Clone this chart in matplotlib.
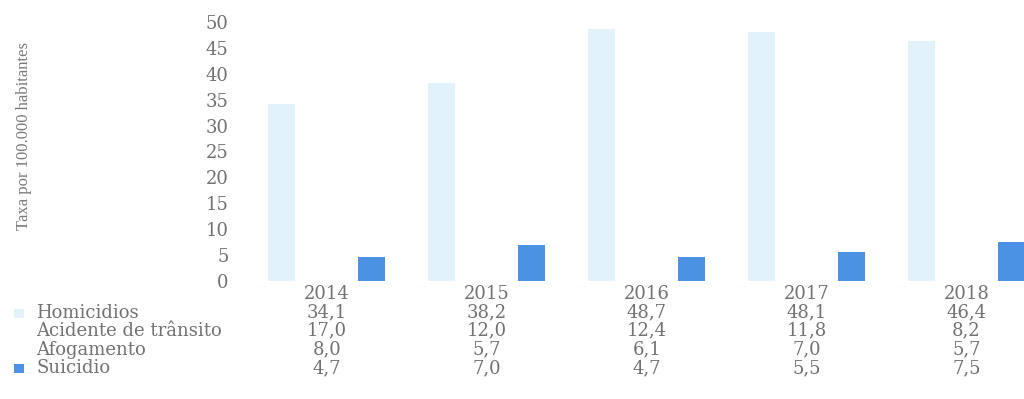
import matplotlib
matplotlib.use("Agg")
import matplotlib.pyplot as plt
import matplotlib.transforms as mtransforms
from matplotlib.patches import Rectangle
import numpy as np

years = ["2014", "2015", "2016", "2017", "2018"]
series_names = ["Homicidios", "Acidente de trânsito", "Afogamento", "Suicidio"]
homicidios = [34.1, 38.2, 48.7, 48.1, 46.4]
acidente = [17.0, 12.0, 12.4, 11.8, 8.2]
afogamento = [8.0, 5.7, 6.1, 7.0, 5.7]
suicidio = [4.7, 7.0, 4.7, 5.5, 7.5]
series = [homicidios, acidente, afogamento, suicidio]
colors = ["#e2f2fb", "#ffffff", "#ffffff", "#4c92e4"]

TXT = "#727272"
SERIF = ["DejaVu Serif"]
FS = 13

fig = plt.figure(figsize=(10.24, 3.99), dpi=100)
# o gráfico original está cortado à direita: o eixo passa da borda
ax = fig.add_axes([0.241, 0.296, 0.781, 0.649])

x = np.arange(len(years))
w = 0.1875
for k, vals in enumerate(series):
    ax.bar(x + (k - 1.5) * w, vals, width=w * 0.9, color=colors[k], linewidth=0)

ax.set_xlim(-0.5, len(years) - 0.5)
ax.set_ylim(0, 50)
ax.set_yticks(range(0, 51, 5))
ax.set_yticklabels([str(v) for v in range(0, 51, 5)], family=SERIF,
                   fontsize=FS, color=TXT)
ax.tick_params(axis="y", length=0, pad=13)
ax.set_xticks(x)
ax.set_xticklabels(years, family=SERIF, fontsize=FS, color=TXT)
ax.tick_params(axis="x", length=0, pad=3)
for s in ax.spines.values():
    s.set_visible(False)

fig.text(0.023, 0.66, "Taxa por 100.000 habitantes", rotation=90,
         ha="center", va="center", family=["Liberation Serif"],
         fontsize=12, color="#7a7a7a")

# tabela de dados abaixo do gráfico
trans = mtransforms.blended_transform_factory(ax.transData, fig.transFigure)
row_y = [0.216, 0.171, 0.124, 0.078]
for name, vals, c, yy in zip(series_names, series, colors, row_y):
    fig.text(36 / 1024, yy, name, ha="left", va="center", family=SERIF,
             fontsize=FS, color=TXT)
    fig.add_artist(Rectangle((14 / 1024, yy - 0.012), 10 / 1024, 0.022,
                             transform=fig.transFigure, color=c, lw=0))
    for xi, v in zip(x, vals):
        ax.text(xi, yy, f"{v:.1f}".replace(".", ","), transform=trans,
                ha="center", va="center", family=SERIF, fontsize=FS,
                color=TXT, clip_on=False)

fig.savefig("out.png", dpi=100)
